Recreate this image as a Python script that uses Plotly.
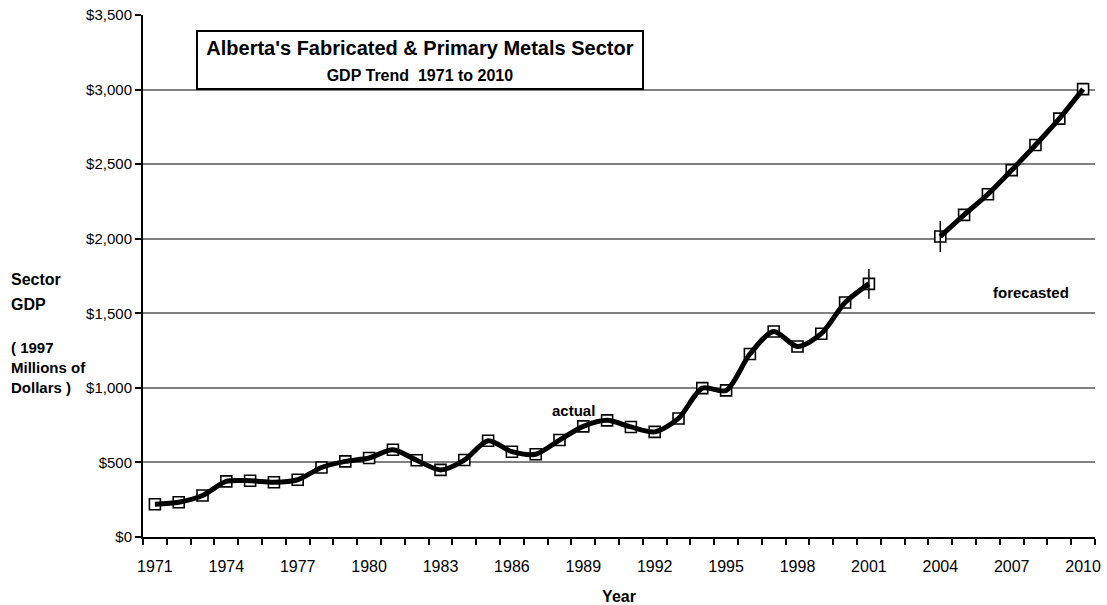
import plotly.graph_objects as go

years = list(range(1971, 2011))
gdp = [220, 233, 278, 373, 377, 367, 384, 466, 507, 530, 585, 515, 450, 516,
       645, 572, 555, 650, 742, 782, 738, 705, 795, 998, 983, 1227, 1378, 1277,
       1363, 1572, 1697, None, None, 2015, 2160, 2298, 2460, 2628, 2805, 3003]
err_years = [2001, 2004]
err_vals = [1697, 2015]
err_size = [100, 105]
tick_years = list(range(1971, 2011, 3))

FONT = "Arial, Liberation Sans, sans-serif"

fig = go.Figure()
fig.add_trace(go.Scatter(
    x=years, y=gdp, mode="markers",
    marker=dict(symbol="square", size=11, color="white",
                line=dict(color="black", width=1.6)),
    hoverinfo="skip", showlegend=False))
fig.add_trace(go.Scatter(
    x=years, y=gdp, mode="lines", connectgaps=False,
    line=dict(color="black", width=5, shape="spline", smoothing=0.8),
    showlegend=False))
fig.add_trace(go.Scatter(
    x=err_years, y=err_vals, mode="markers",
    marker=dict(size=1, color="rgba(0,0,0,0)"),
    error_y=dict(type="data", array=err_size, color="black", thickness=1.5, width=0),
    showlegend=False))

fig.update_layout(
    width=1107, height=605,
    margin=dict(l=143, r=12, t=15, b=68),
    paper_bgcolor="white", plot_bgcolor="white",
    font=dict(family=FONT, size=15, color="black"),
    xaxis=dict(
        range=[1970.5, 2010.5], tickvals=tick_years,
        ticktext=[str(y) for y in tick_years],
        ticks="outside", ticklen=0, ticklabelstandoff=14,
        showgrid=False, zeroline=False, automargin=False,
        showline=True, linecolor="black", linewidth=2,
        tickfont=dict(size=16),
        minor=dict(tick0=1970.5, dtick=1, ticks="outside", ticklen=6,
                   tickwidth=1.5, tickcolor="black", showgrid=False),
        title=dict(text="<b>Year</b>", font=dict(size=16), standoff=20),
    ),
    yaxis=dict(
        range=[0, 3500], dtick=500, tickprefix="$", tickformat=",",
        ticks="outside", ticklen=6, tickwidth=1.5, tickcolor="black",
        ticklabelstandoff=0, automargin=False,
        showgrid=True, gridcolor="#808080", gridwidth=1.5,
        zeroline=False, showline=True, linecolor="black", linewidth=2,
        tickfont=dict(size=15),
    ),
)

fig.add_annotation(
    xref="paper", yref="paper", x=0.2905, y=0.913,
    xanchor="center", yanchor="middle",
    text="<b>Alberta's Fabricated &amp; Primary Metals Sector</b><br>"
         "<span style='font-size:16px'><b>GDP Trend&nbsp;&nbsp;1971 to 2010</b></span>",
    showarrow=False, font=dict(size=20, family=FONT, color="black"),
    bordercolor="black", borderwidth=2, borderpad=1, bgcolor="white",
    width=442, height=54, align="center")

fig.add_annotation(x=1988.6, y=848, xref="x", yref="y", text="<b>actual</b>",
                   showarrow=False, font=dict(size=15, family=FONT))
fig.add_annotation(x=2007.8, y=1638, xref="x", yref="y", text="<b>forecasted</b>",
                   showarrow=False, font=dict(size=15, family=FONT))

left_lines = [("Sector", 0.493, 16), ("GDP", 0.445, 16),
              ("( 1997", 0.3622, 15), ("Millions of", 0.3253, 15), ("Dollars )", 0.2863, 15)]
for txt, yp, sz in left_lines:
    fig.add_annotation(xref="paper", yref="paper",
                       x=-0.141, y=yp,
                       xanchor="left", yanchor="middle",
                       text=f"<b>{txt}</b>", showarrow=False,
                       font=dict(size=sz, family=FONT))

fig.write_html("out.html")
